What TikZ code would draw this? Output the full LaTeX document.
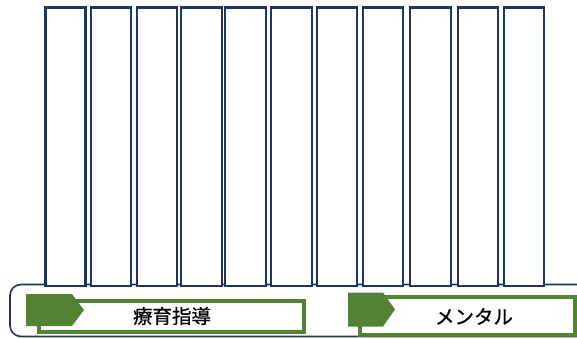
\documentclass[tikz,border=0pt]{standalone}
\usepackage{fontspec}
\newfontfamily\cjk[FakeBold=0.7]{Noto Sans CJK JP}
\definecolor{navy}{RGB}{31,52,94}
\definecolor{leaf}{RGB}{84,130,53}
\tikzset{
  col/.style={draw=navy, line width=2.3pt, fill=white},
  frame/.style={draw=navy, line width=1.6pt, rounded corners=11pt},
  gframe/.style={draw=leaf, line width=4pt, fill=white},
  tab/.style={fill=leaf},
  lbl/.style={font=\cjk\fontsize{19.5}{20}\selectfont, text=black, inner sep=0pt}
}
\begin{document}
\begin{tikzpicture}[x=1pt,y=-1pt]
\useasboundingbox (0,0) rectangle (577,338);
\clip (0,0) rectangle (577,338);
% container
\draw[frame] (10,284.5) rectangle (600,336.5);
% columns
\foreach \l/\r [count=\i] in {45.5/85.5,91/131,136.7/176.7,180.7/221.7,225/265.7,271/311.7,316.7/356.7,362.7/403.3,410/451,458.3/497.7,504.3/544.3}{
  \draw[col] (\l,7.5) rectangle (\r,286);
}
% tab 1
\draw[gframe] (39,300.5) rectangle (303.5,332);
\fill[tab] (26,294) -- (72,294) -- (84,310) -- (72,326) -- (26,326) -- cycle;
\node[lbl] (t1) at (172,316) {療育指導};
% tab 2
\draw[gframe] (359.5,297) rectangle (574.5,334.5);
\fill[tab] (348,292.5) -- (383,292.5) -- (395,309.5) -- (383,326.5) -- (348,326.5) -- cycle;
\node[lbl] (t2) at (474,316.5) {メンタル};
\end{tikzpicture}
\end{document}
